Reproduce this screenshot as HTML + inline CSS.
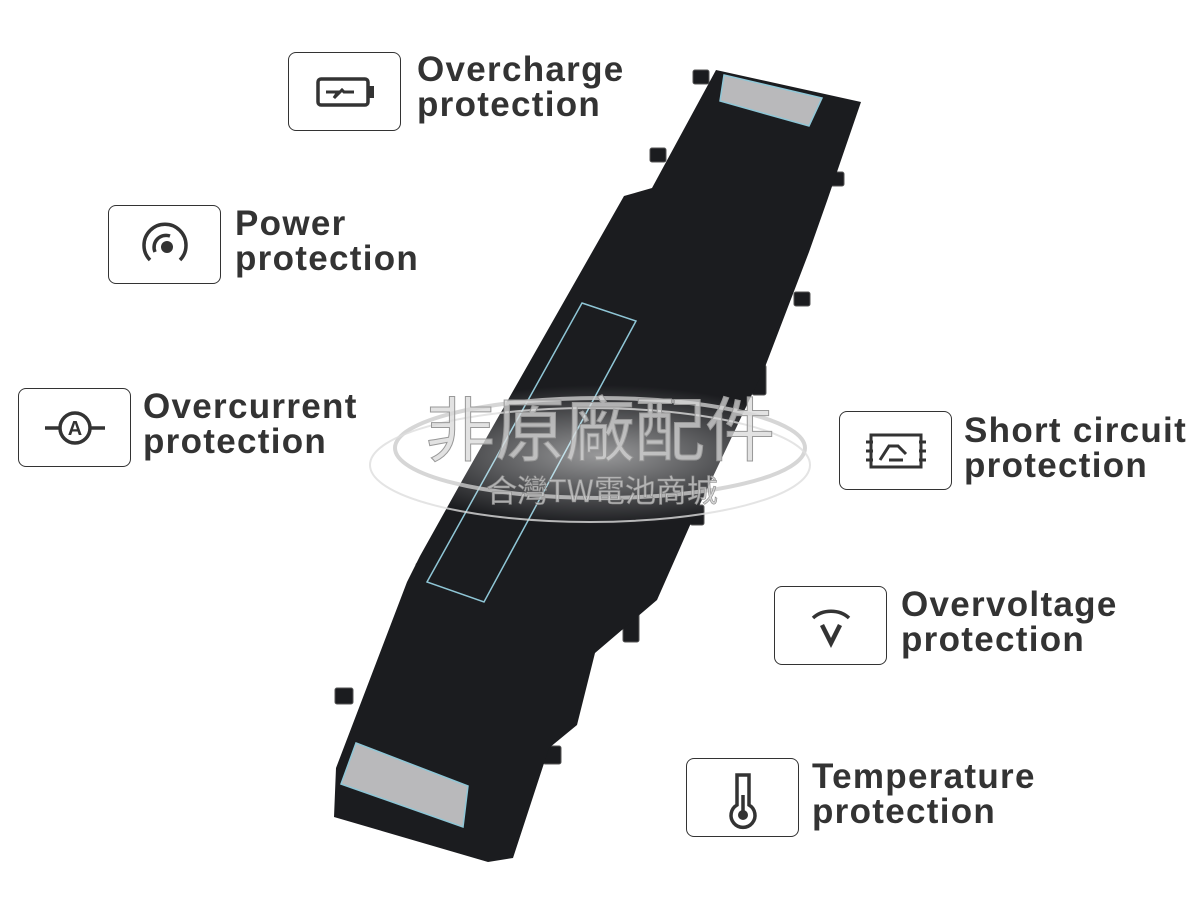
<!DOCTYPE html>
<html><head><meta charset="utf-8"><style>
body{margin:0;width:1200px;height:900px;background:#fff;position:relative;overflow:hidden;font-family:"Liberation Sans",sans-serif}
.box{position:absolute;width:113px;height:79px;border:1.5px solid #333;border-radius:8px;box-sizing:border-box;display:flex;align-items:center;justify-content:center}
.t{position:absolute;font-weight:bold;font-size:35px;line-height:35px;color:#333;letter-spacing:1.3px}
</style></head><body>
<svg width="1200" height="900" style="position:absolute;left:0;top:0">
<defs><radialGradient id="g" cx="50%" cy="50%" r="50%"><stop offset="0" stop-color="#fff" stop-opacity="0.55"/><stop offset="1" stop-color="#fff" stop-opacity="0"/></radialGradient></defs>
<g fill="#1b1c1f" stroke="#555" stroke-width="1"><rect x="693" y="70" width="16" height="14" rx="2"/><rect x="650" y="148" width="16" height="14" rx="2"/><rect x="826" y="172" width="18" height="14" rx="2"/><rect x="794" y="292" width="16" height="14" rx="2"/><rect x="416" y="563" width="16" height="16" rx="2"/><rect x="335" y="688" width="18" height="16" rx="2"/><rect x="543" y="746" width="18" height="18" rx="2"/><rect x="623" y="598" width="16" height="44" rx="2"/><rect x="752" y="365" width="14" height="30" rx="2"/><rect x="690" y="505" width="14" height="20" rx="2"/></g>
<polygon fill="#1b1c1f" points="716,70 861,102 827,201 809,252 765,367 691,523 657,600 595,653 577,725 549,748 513,858 488,862 334,817 336,768 407,582 420,556 463,479 624,196 652,188"/>
<polygon fill="#b9b9bb" stroke="#8fc6d6" stroke-width="1.5" points="724,75 822,98 809,126 720,101"/>
<polygon fill="#b9b9bb" stroke="#8fc6d6" stroke-width="1.5" points="356,743 468,786 463,827 341,784"/>
<polygon fill="none" stroke="#8fc6d6" stroke-width="1.5" points="582,303 636,321 484,602 427,582"/>
<ellipse cx="600" cy="455" rx="220" ry="70" fill="url(#g)"/>
<ellipse cx="600" cy="448" rx="205" ry="50" fill="none" stroke="#ccc" stroke-width="4" opacity="0.8"/>
<ellipse cx="590" cy="465" rx="220" ry="57" fill="none" stroke="#ddd" stroke-width="2" opacity="0.8"/>
<text x="600" y="455" text-anchor="middle" font-family="Noto Sans CJK TC,sans-serif" font-size="70" fill="#d8d8d8" fill-opacity="0.75" stroke="#999" stroke-width="1">非原廠配件</text>
<text x="602" y="502" text-anchor="middle" font-family="Noto Sans CJK TC,sans-serif" font-size="31" fill="#ccc" fill-opacity="0.8" stroke="#888" stroke-width="0.6">合灣TW電池商城</text>
</svg>

<div class="box" style="left:288px;top:52px"><svg width="70" height="50"><rect x="8" y="12" width="50" height="26" rx="3" fill="none" stroke="#333" stroke-width="3.5"/><rect x="59" y="19" width="5" height="12" fill="#333"/><path d="M16 25h12l-4 6 8-8 2 2h10" stroke="#333" stroke-width="3" fill="none"/></svg></div>
<div class="t" style="left:417px;top:52px">Overcharge<br>protection</div>

<div class="box" style="left:108px;top:205px"><svg width="70" height="70"><path d="M20 50 A21 21 0 1 1 50 50" fill="none" stroke="#333" stroke-width="3.5"/><path d="M25 42 A12 12 0 0 1 40 26" fill="none" stroke="#333" stroke-width="3.5"/><circle cx="37" cy="37" r="6" fill="#333"/></svg></div>
<div class="t" style="left:235px;top:206px">Power<br>protection</div>

<div class="box" style="left:18px;top:388px"><svg width="80" height="50"><circle cx="40" cy="25" r="15" fill="none" stroke="#333" stroke-width="3.5"/><path d="M10 25h15M55 25h15" stroke="#333" stroke-width="3.5"/><text x="40" y="32" text-anchor="middle" font-size="20" font-weight="bold" fill="#333" font-family="Liberation Sans">A</text></svg></div>
<div class="t" style="left:143px;top:389px">Overcurrent<br>protection</div>

<div class="box" style="left:839px;top:411px"><svg width="80" height="56"><rect x="15" y="12" width="50" height="32" fill="none" stroke="#333" stroke-width="3"/><path d="M10 19h7M10 28h7M10 37h7M63 19h7M63 28h7M63 37h7M24 37l9-14h9l8 8M33 37h14" stroke="#333" stroke-width="3" fill="none"/></svg></div>
<div class="t" style="left:964px;top:413px">Short circuit<br>protection</div>

<div class="box" style="left:774px;top:586px"><svg width="70" height="70"><path d="M17 27 A24 20 0 0 1 53 27" fill="none" stroke="#333" stroke-width="3.5"/><path d="M26 34 L35 52 L44 34" fill="none" stroke="#333" stroke-width="4.5"/></svg></div>
<div class="t" style="left:901px;top:587px">Overvoltage<br>protection</div>

<div class="box" style="left:686px;top:758px"><svg width="60" height="70"><path d="M24 12h12v30a12 12 0 1 1 -12 0z" fill="none" stroke="#333" stroke-width="3.5"/><circle cx="30" cy="52" r="5" fill="#333"/><path d="M30 32v18" stroke="#333" stroke-width="3.5"/></svg></div>
<div class="t" style="left:812px;top:759px">Temperature<br>protection</div>
</body></html>
